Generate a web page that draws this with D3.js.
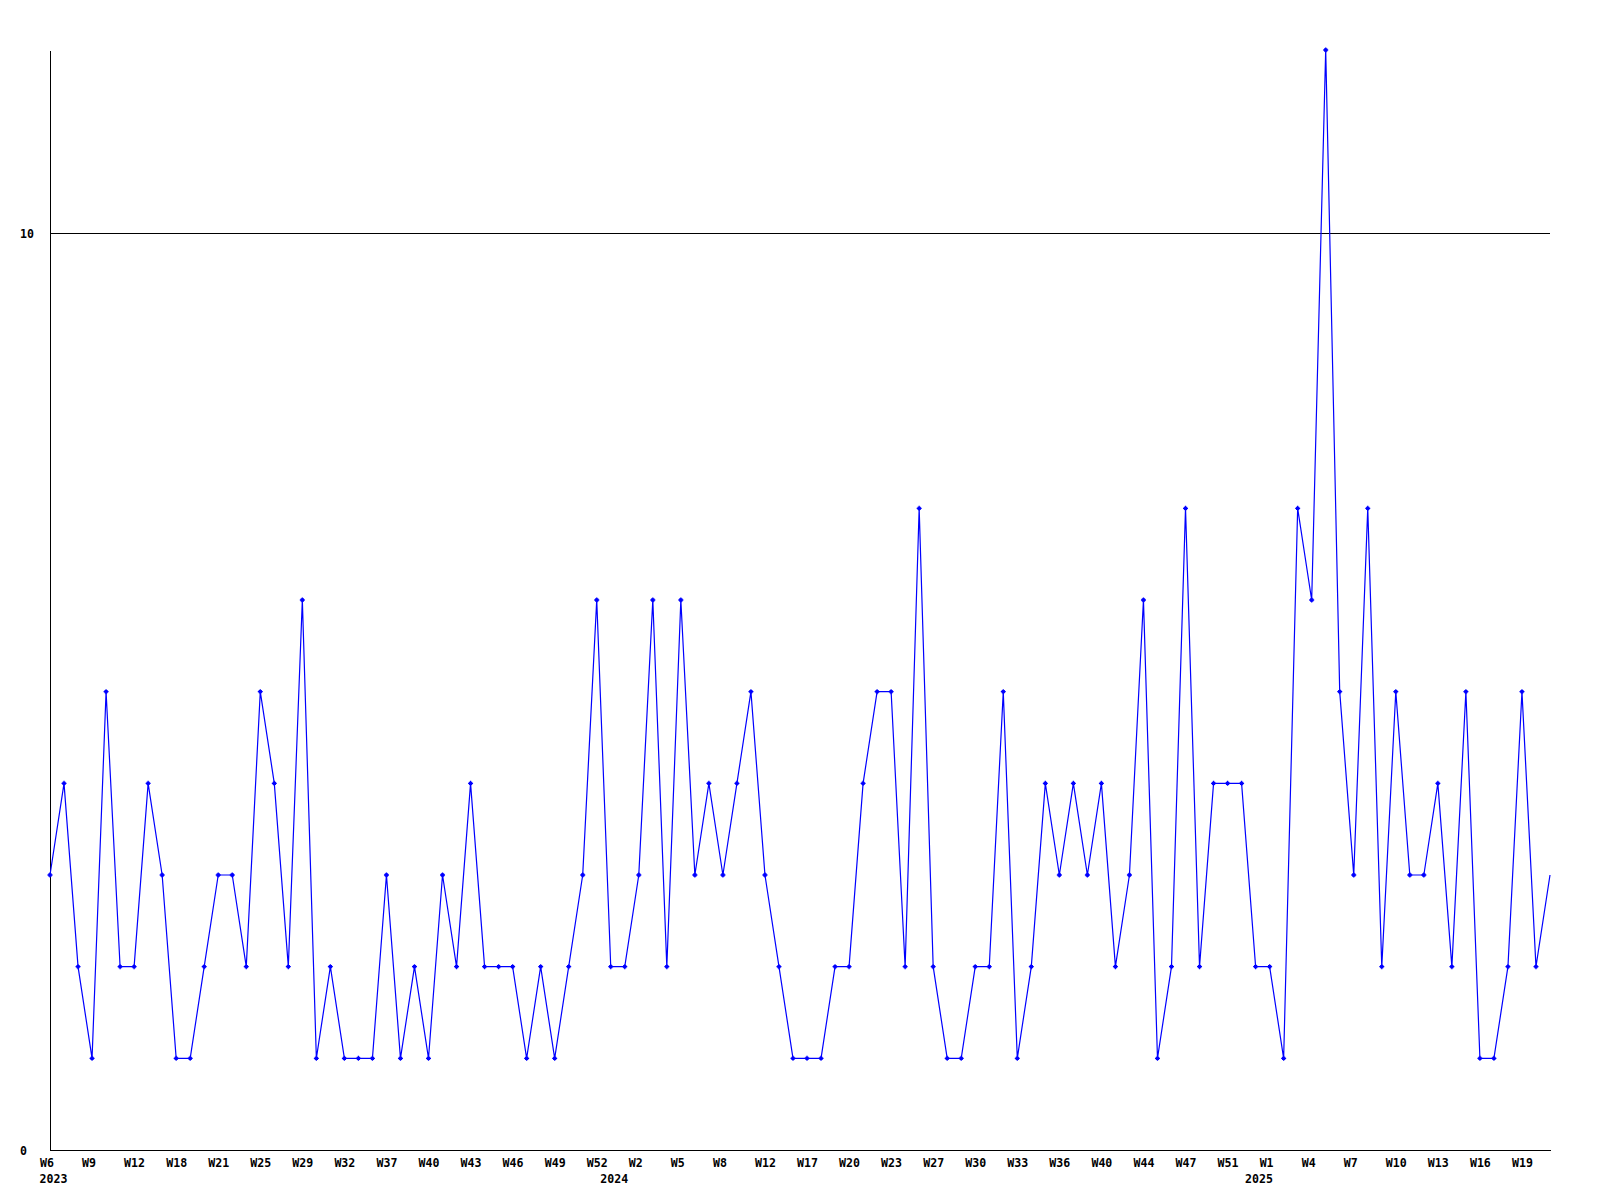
<!DOCTYPE html>
<html>
<head>
<meta charset="utf-8">
<script src="https://cdn.jsdelivr.net/npm/d3@7"></script>
<style>
  html, body { margin: 0; padding: 0; background: #ffffff; }
  svg { display: block; }
  text { font-family: "DejaVu Sans Mono", "Liberation Mono", monospace; font-weight: bold; font-size: 11.6px; fill: #000; }
</style>
</head>
<body>
<svg id="chart" width="1600" height="1200"></svg>
<script>
// Weekly counts, one value per point (108 points)
const values = [
  3,4,2,1,5,2,2,4,3,1,
  1,2,3,3,2,5,4,2,6,1,
  2,1,1,1,3,1,2,1,3,2,
  4,2,2,2,1,2,1,2,3,6,
  2,2,3,6,2,6,3,4,3,4,
  5,3,2,1,1,1,2,2,4,5,
  5,2,7,2,1,1,2,2,5,1,
  2,4,3,4,3,4,2,3,6,1,
  2,7,2,4,4,4,2,2,1,7,
  6,12,5,3,7,2,5,3,3,4,
  2,5,1,1,2,5,2,3
];
// Week labels shown on every third point
const weekLabels = [
  "W6","W9","W12","W18","W21","W25","W29","W32","W37","W40","W43","W46",
  "W49","W52","W2","W5","W8","W12","W17","W20","W23","W27","W30","W33","W36",
  "W40","W44","W47","W51","W1","W4","W7","W10","W13","W16","W19"
];
const labelStep = 3;
// Year labels and the point index where each year starts
const years = ["2023", "2024", "2025"];
const yearStart = [0, 40, 86];
// Y axis
const yDomain = [0, 12];
const yTicks = [0, 10];

(function () {
const svg = d3.select("#chart");
const mLeft = 50, mRight = 1550, mTop = 50, mBottom = 1150;

const x = d3.scalePoint().domain(d3.range(values.length)).range([mLeft, mRight]);
const y = d3.scaleLinear().domain(yDomain).range([mBottom, mTop]);

// Y axis with gridline at ticks
const yAxis = svg.append("g")
  .attr("transform", `translate(${mLeft},0)`)
  .call(d3.axisLeft(y).tickValues(yTicks).tickSizeInner(-(mRight - mLeft)).tickSizeOuter(0).tickPadding(0));
yAxis.selectAll("line, path").attr("stroke", "#000").attr("stroke-width", 1).attr("shape-rendering", "crispEdges");
yAxis.selectAll("text")
  .attr("x", -30).attr("text-anchor", "start").attr("dy", "0.35em")
  .style("font-family", "DejaVu Sans Mono, monospace").style("font-size", "11.6px").style("font-weight", "bold");

// X axis
const tickIdx = weekLabels.map((_, i) => i * labelStep);
const xAxis = svg.append("g")
  .attr("transform", `translate(0,${mBottom})`)
  .call(d3.axisBottom(x).tickValues(tickIdx).tickSize(0)
    .tickFormat(d => weekLabels[d / labelStep]));
xAxis.select("path.domain").attr("stroke", "#000").attr("shape-rendering", "crispEdges");
xAxis.selectAll("text")
  .attr("text-anchor", "start").attr("x", -10.5).attr("y", 17).attr("dy", 0)
  .style("font-family", "DejaVu Sans Mono, monospace").style("font-size", "11.6px").style("font-weight", "bold");

// Year labels
svg.append("g").selectAll("text")
  .data(years)
  .join("text")
  .attr("x", (d, i) => x(yearStart[i]) - 10.5)
  .attr("y", mBottom + 33)
  .text(d => d);

// Line
const line = d3.line().x((d, i) => x(i)).y(d => y(d));
svg.append("path")
  .datum(values)
  .attr("d", line)
  .attr("fill", "none")
  .attr("stroke", "#0000ff")
  .attr("stroke-width", 1.2);

// Markers (small crosses)
const markerPts = values.slice(0, values.length - 1);
svg.append("g").selectAll("path")
  .data(markerPts)
  .join("path")
  .attr("d", (d, i) => {
    const cx = x(i), cy = y(d);
    return `M${cx - 2.5},${cy}H${cx + 2.5}M${cx},${cy - 2.5}V${cy + 2.5}M${cx - 1},${cy - 1}h2v2h-2z`;
  })
  .attr("fill", "#0000ff")
  .attr("stroke", "#0000ff")
  .attr("stroke-width", 1.3);
})();
</script>
</body>
</html>
